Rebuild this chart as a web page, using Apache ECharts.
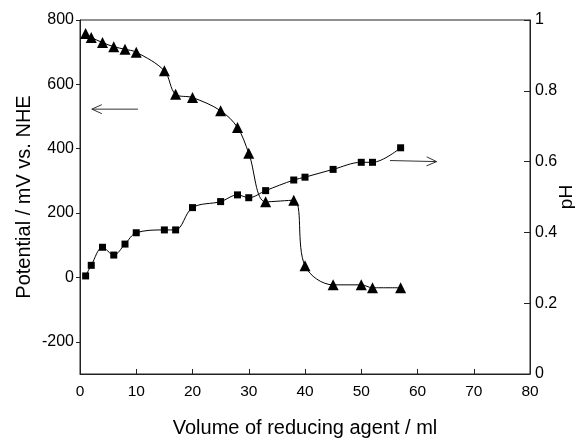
<!DOCTYPE html>
<html>
<head>
<meta charset="utf-8">
<script src="https://cdn.jsdelivr.net/npm/echarts@6/dist/echarts.min.js"></script>
<style>
  html, body { margin: 0; padding: 0; background: #fff; }
  #chart { width: 575px; height: 440px; }
</style>
</head>
<body>
<div id="chart"></div>
<script>
// Titration: volume of added reducing agent (ml)
const volumes = [1, 2, 4, 6, 8, 10, 15, 17, 20, 25, 28, 30, 33, 38, 40, 45, 50, 52, 57];
// Redox potential, mV vs. NHE (left axis, triangles)
const potential = [758, 746, 730, 717, 709, 700, 642, 569, 559, 518, 466, 386, 235, 240, 36, -23, -23, -32, -32];
// pH (right axis, squares)
const pH = [0.277, 0.307, 0.358, 0.336, 0.367, 0.399, 0.407, 0.407, 0.470, 0.487, 0.506, 0.498, 0.518, 0.548, 0.556, 0.578, 0.598, 0.598, 0.639];

// Tick values of the potential axis
const potentialTicks = [-200, 0, 200, 400, 600, 800];

// Arrows telling which axis each curve belongs to: [tail, head] in data units
const potentialArrow = [[10.3, 523], [2.1, 523]];
const pHArrow = [[55.1, 0.603], [63.4, 0.600]];

const FONT = '"Liberation Sans", Arial, Helvetica, sans-serif';
const INK = '#000';

const chart = echarts.init(document.getElementById('chart'), null, { renderer: 'canvas' });

const axisName = { color: INK, fontSize: 20, fontFamily: FONT };

chart.setOption({
  animation: false,
  backgroundColor: '#fff',
  grid: {
    left: 80, right: 45, top: 20, bottom: 66,
    containLabel: false,
    outerBoundsMode: 'none',
    show: true, borderColor: '#222', borderWidth: 1, backgroundColor: 'transparent'
  },
  xAxis: {
    type: 'value', min: 0, max: 80, interval: 10,
    name: 'Volume of reducing agent / ml',
    nameLocation: 'middle', nameGap: 44, nameMoveOverlap: false, nameTextStyle: axisName,
    axisLine: { show: true, onZero: false, lineStyle: { color: '#222', width: 1 } },
    axisTick: { show: true, inside: true, length: 5, lineStyle: { color: '#222' } },
    axisLabel: { margin: 10, color: INK, fontSize: 15.5, fontFamily: FONT },
    splitLine: { show: false }
  },
  yAxis: [
    {
      type: 'value', min: -300, max: 800, interval: 100,
      name: 'Potential / mV vs. NHE',
      nameLocation: 'middle', nameGap: 46, nameRotate: 90, nameMoveOverlap: false,
      nameTextStyle: axisName,
      axisLine: { show: true, onZero: false, lineStyle: { color: '#222', width: 1 } },
      axisTick: { show: true, inside: false, length: 4, lineStyle: { color: '#222' },
                  customValues: potentialTicks },
      axisLabel: { margin: 6, customValues: potentialTicks,
                   color: INK, fontSize: 16, fontFamily: FONT },
      splitLine: { show: false }
    },
    {
      type: 'value', min: 0, max: 1, interval: 0.2,
      name: 'pH',
      nameLocation: 'middle', nameGap: 27, nameRotate: 90, nameMoveOverlap: false,
      nameTextStyle: { color: INK, fontSize: 19, fontFamily: FONT },
      position: 'right',
      axisLine: { show: true, onZero: false, lineStyle: { color: '#222', width: 1 } },
      axisTick: { show: true, inside: true, length: 6, lineStyle: { color: '#222' } },
      axisLabel: {
        margin: 5, color: INK, fontSize: 16, fontFamily: FONT,
        formatter: function (v) { return (v === 0 || v === 1) ? String(v) : v.toFixed(1); }
      },
      splitLine: { show: false }
    }
  ],
  series: [
    {
      name: 'Potential',
      type: 'line',
      yAxisIndex: 0,
      data: volumes.map((v, i) => [v, potential[i]]),
      smooth: 0.35,
      symbol: 'triangle',
      symbolSize: 11,
      lineStyle: { color: INK, width: 1 },
      itemStyle: { color: INK }
    },
    {
      name: 'pH',
      type: 'line',
      yAxisIndex: 1,
      data: volumes.map((v, i) => [v, pH[i]]),
      smooth: 0.35,
      symbol: 'rect',
      symbolSize: 7,
      lineStyle: { color: INK, width: 1 },
      itemStyle: { color: INK }
    }
  ]
});

function arrowGraphic(pts, yAxisIndex) {
  const a = chart.convertToPixel({ xAxisIndex: 0, yAxisIndex: yAxisIndex }, pts[0]);
  const b = chart.convertToPixel({ xAxisIndex: 0, yAxisIndex: yAxisIndex }, pts[1]);
  const ang = Math.atan2(b[1] - a[1], b[0] - a[0]);
  const L = 10, W = 4.5;
  const back = [b[0] - L * Math.cos(ang), b[1] - L * Math.sin(ang)];
  const nx = -Math.sin(ang), ny = Math.cos(ang);
  const style = { stroke: '#333', lineWidth: 1, fill: null };
  return [
    { type: 'polyline', shape: { points: [a, b] }, style: style, silent: true },
    { type: 'polyline', shape: { points: [
        [back[0] + nx * W, back[1] + ny * W], b, [back[0] - nx * W, back[1] - ny * W]
      ] }, style: style, silent: true }
  ];
}

chart.setOption({
  graphic: [].concat(arrowGraphic(potentialArrow, 0), arrowGraphic(pHArrow, 1))
});
</script>
</body>
</html>
